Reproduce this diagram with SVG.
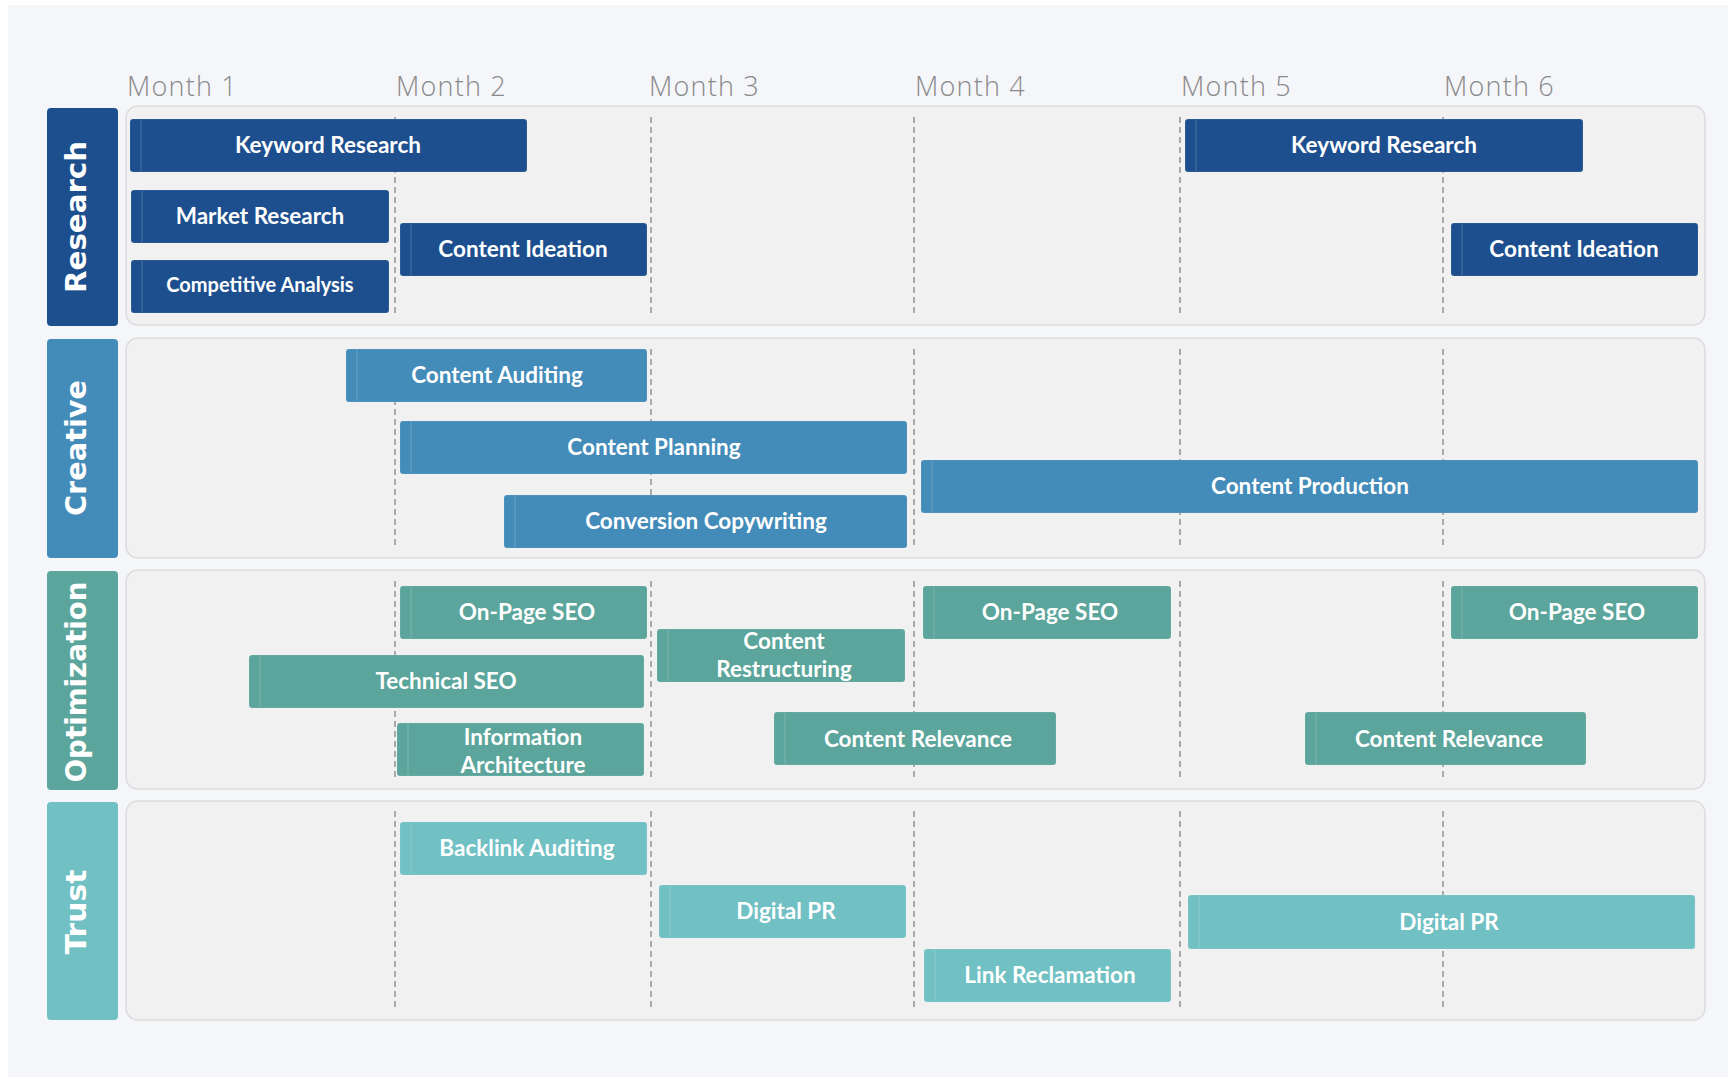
<svg xmlns="http://www.w3.org/2000/svg" width="1728" height="1079" viewBox="0 0 1728 1079">
  <style>
    .month { font-family: "Open Sans", "DejaVu Sans", sans-serif; font-weight: 300; font-size: 27px; fill: #8a8a8a; letter-spacing: 1.2px; }
    .lane { fill: #f1f1f1; stroke: #dcdcdc; stroke-width: 1.5; }
    .grid { stroke: #8c8c8c; stroke-width: 1.4; stroke-dasharray: 6 4; fill: none; }
    .cat { font-family: "DejaVu Sans", "Open Sans", sans-serif; font-weight: 700; font-size: 28px; fill: #ffffff; text-anchor: middle; }
    .bar-label { font-family: Lato, "Open Sans", sans-serif; font-weight: 700; font-size: 22.5px; fill: #ffffff; text-anchor: middle; }
    .edge { stroke: #ffffff; stroke-opacity: 0.18; stroke-width: 1.2; }
    .research { fill: #1d4f8f; }
    .creative { fill: #438bb9; }
    .optim { fill: #5ba59c; }
    .trust { fill: #70c0c4; }
    .bar { stroke: #ffffff; stroke-opacity: 0.12; stroke-width: 1; }
  </style>

  <!-- page -->
  <rect x="0" y="0" width="1728" height="1079" fill="#ffffff"/>
  <rect x="8" y="5" width="1720" height="1072" fill="#f5f6fa"/>

  <!-- month headings -->
  <g id="months">
    <text class="month" x="127" y="96">Month 1</text>
    <text class="month" x="396" y="96">Month 2</text>
    <text class="month" x="649" y="96">Month 3</text>
    <text class="month" x="915" y="96">Month 4</text>
    <text class="month" x="1181" y="96">Month 5</text>
    <text class="month" x="1444" y="96">Month 6</text>
  </g>

  <!-- swimlane backgrounds -->
  <g id="lanes">
    <rect class="lane" x="126" y="106" width="1579" height="219" rx="12"/>
    <rect class="lane" x="126" y="338" width="1579" height="220" rx="12"/>
    <rect class="lane" x="126" y="570" width="1579" height="219" rx="12"/>
    <rect class="lane" x="126" y="801" width="1579" height="219" rx="12"/>
  </g>

  <!-- month dividers -->
  <g id="connectors">
    <path class="grid" d="M395 117V317M651 117V317M914 117V317M1180 117V317M1443 117V317"/>
    <path class="grid" d="M395 349V549M651 349V549M914 349V549M1180 349V549M1443 349V549"/>
    <path class="grid" d="M395 581V781M651 581V781M914 581V781M1180 581V781M1443 581V781"/>
    <path class="grid" d="M395 811V1011M651 811V1011M914 811V1011M1180 811V1011M1443 811V1011"/>
  </g>

  <!-- category headers -->
  <g id="cat-research">
    <rect class="research" x="47" y="108" width="71" height="218" rx="4"/>
    <text class="cat" transform="translate(86 217) rotate(-90)" textLength="152" lengthAdjust="spacingAndGlyphs">Research</text>
  </g>
  <g id="cat-creative">
    <rect class="creative" x="47" y="339" width="71" height="219" rx="4"/>
    <text class="cat" transform="translate(86 448) rotate(-90)" textLength="136" lengthAdjust="spacingAndGlyphs">Creative</text>
  </g>
  <g id="cat-optimization">
    <rect class="optim" x="47" y="571" width="71" height="219" rx="4"/>
    <text class="cat" transform="translate(86 682) rotate(-90)" textLength="201" lengthAdjust="spacingAndGlyphs">Optimization</text>
  </g>
  <g id="cat-trust">
    <rect class="trust" x="47" y="802" width="71" height="218" rx="4"/>
    <text class="cat" transform="translate(86 912) rotate(-90)" textLength="85" lengthAdjust="spacingAndGlyphs">Trust</text>
  </g>

  <!-- Research tasks -->
  <g id="keyword-research-1">
    <rect class="research bar" x="130" y="119" width="397" height="53" rx="3"/>
    <line class="edge" x1="141" y1="120" x2="141" y2="171"/>
    <text class="bar-label" x="328" y="153">Keyword Research</text>
  </g>
  <g id="market-research">
    <rect class="research bar" x="131" y="190" width="258" height="53" rx="3"/>
    <line class="edge" x1="142" y1="191" x2="142" y2="242"/>
    <text class="bar-label" x="260" y="224">Market Research</text>
  </g>
  <g id="competitive-analysis">
    <rect class="research bar" x="131" y="260" width="258" height="53" rx="3"/>
    <line class="edge" x1="142" y1="261" x2="142" y2="312"/>
    <text class="bar-label" x="260" y="292" style="font-size:20px">Competitive Analysis</text>
  </g>
  <g id="content-ideation-1">
    <rect class="research bar" x="400" y="223" width="247" height="53" rx="3"/>
    <line class="edge" x1="411" y1="224" x2="411" y2="275"/>
    <text class="bar-label" x="523" y="257">Content Ideation</text>
  </g>
  <g id="keyword-research-2">
    <rect class="research bar" x="1185" y="119" width="398" height="53" rx="3"/>
    <line class="edge" x1="1196" y1="120" x2="1196" y2="171"/>
    <text class="bar-label" x="1384" y="153">Keyword Research</text>
  </g>
  <g id="content-ideation-2">
    <rect class="research bar" x="1451" y="223" width="247" height="53" rx="3"/>
    <line class="edge" x1="1462" y1="224" x2="1462" y2="275"/>
    <text class="bar-label" x="1574" y="257">Content Ideation</text>
  </g>

  <!-- Creative tasks -->
  <g id="content-auditing">
    <rect class="creative bar" x="346" y="349" width="301" height="53" rx="3"/>
    <line class="edge" x1="357" y1="350" x2="357" y2="401"/>
    <text class="bar-label" x="497" y="383">Content Auditing</text>
  </g>
  <g id="content-planning">
    <rect class="creative bar" x="400" y="421" width="507" height="53" rx="3"/>
    <line class="edge" x1="411" y1="422" x2="411" y2="473"/>
    <text class="bar-label" x="654" y="455">Content Planning</text>
  </g>
  <g id="conversion-copywriting">
    <rect class="creative bar" x="504" y="495" width="403" height="53" rx="3"/>
    <line class="edge" x1="515" y1="496" x2="515" y2="547"/>
    <text class="bar-label" x="706" y="529">Conversion Copywriting</text>
  </g>
  <g id="content-production">
    <rect class="creative bar" x="921" y="460" width="777" height="53" rx="3"/>
    <line class="edge" x1="932" y1="461" x2="932" y2="512"/>
    <text class="bar-label" x="1310" y="494">Content Production</text>
  </g>

  <!-- Optimization tasks -->
  <g id="on-page-seo-1">
    <rect class="optim bar" x="400" y="586" width="247" height="53" rx="3"/>
    <line class="edge" x1="411" y1="587" x2="411" y2="638"/>
    <text class="bar-label" x="527" y="620">On-Page SEO</text>
  </g>
  <g id="technical-seo">
    <rect class="optim bar" x="249" y="655" width="395" height="53" rx="3"/>
    <line class="edge" x1="260" y1="656" x2="260" y2="707"/>
    <text class="bar-label" x="446" y="689">Technical SEO</text>
  </g>
  <g id="information-architecture">
    <rect class="optim bar" x="397" y="723" width="247" height="53" rx="3"/>
    <line class="edge" x1="408" y1="724" x2="408" y2="775"/>
    <text class="bar-label" x="523" y="745">Information</text>
    <text class="bar-label" x="523" y="773">Architecture</text>
  </g>
  <g id="content-restructuring">
    <rect class="optim bar" x="657" y="629" width="248" height="53" rx="3"/>
    <line class="edge" x1="668" y1="630" x2="668" y2="681"/>
    <text class="bar-label" x="784" y="649">Content</text>
    <text class="bar-label" x="784" y="677">Restructuring</text>
  </g>
  <g id="content-relevance-1">
    <rect class="optim bar" x="774" y="712" width="282" height="53" rx="3"/>
    <line class="edge" x1="785" y1="713" x2="785" y2="764"/>
    <text class="bar-label" x="918" y="747">Content Relevance</text>
  </g>
  <g id="on-page-seo-2">
    <rect class="optim bar" x="923" y="586" width="248" height="53" rx="3"/>
    <line class="edge" x1="934" y1="587" x2="934" y2="638"/>
    <text class="bar-label" x="1050" y="620">On-Page SEO</text>
  </g>
  <g id="on-page-seo-3">
    <rect class="optim bar" x="1451" y="586" width="247" height="53" rx="3"/>
    <line class="edge" x1="1462" y1="587" x2="1462" y2="638"/>
    <text class="bar-label" x="1577" y="620">On-Page SEO</text>
  </g>
  <g id="content-relevance-2">
    <rect class="optim bar" x="1305" y="712" width="281" height="53" rx="3"/>
    <line class="edge" x1="1316" y1="713" x2="1316" y2="764"/>
    <text class="bar-label" x="1449" y="747">Content Relevance</text>
  </g>

  <!-- Trust tasks -->
  <g id="backlink-auditing">
    <rect class="trust bar" x="400" y="822" width="247" height="53" rx="3"/>
    <line class="edge" x1="411" y1="823" x2="411" y2="874"/>
    <text class="bar-label" x="527" y="856">Backlink Auditing</text>
  </g>
  <g id="digital-pr-1">
    <rect class="trust bar" x="659" y="885" width="247" height="53" rx="3"/>
    <line class="edge" x1="670" y1="886" x2="670" y2="937"/>
    <text class="bar-label" x="786" y="919">Digital PR</text>
  </g>
  <g id="link-reclamation">
    <rect class="trust bar" x="924" y="949" width="247" height="53" rx="3"/>
    <line class="edge" x1="935" y1="950" x2="935" y2="1001"/>
    <text class="bar-label" x="1050" y="983">Link Reclamation</text>
  </g>
  <g id="digital-pr-2">
    <rect class="trust bar" x="1188" y="895" width="507" height="54" rx="3"/>
    <line class="edge" x1="1199" y1="896" x2="1199" y2="948"/>
    <text class="bar-label" x="1449" y="930">Digital PR</text>
  </g>
</svg>
